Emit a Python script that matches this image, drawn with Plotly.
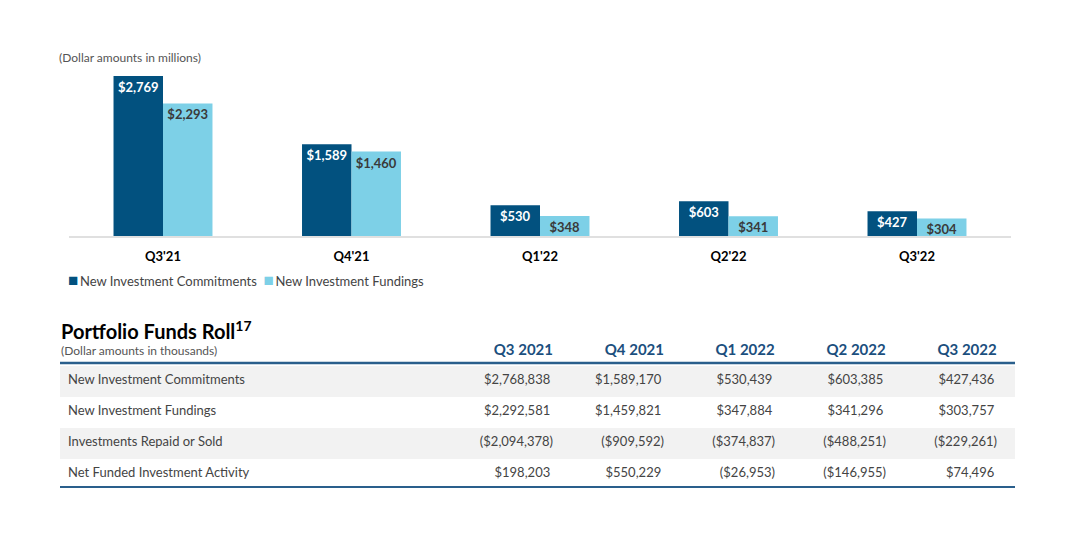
import plotly.graph_objects as go

# ---- data ----
quarters = ["Q3'21", "Q4'21", "Q1'22", "Q2'22", "Q3'22"]
commitments_m = [2769, 1589, 530, 603, 427]
fundings_m = [2293, 1460, 348, 341, 304]

table_cols = ["Q3 2021", "Q4 2021", "Q1 2022", "Q2 2022", "Q3 2022"]
row_labels = ["New Investment Commitments", "New Investment Fundings",
              "Investments Repaid or Sold", "Net Funded Investment Activity"]
commitments_k = [2768838, 1589170, 530439, 603385, 427436]
fundings_k = [2292581, 1459821, 347884, 341296, 303757]
repaid_k = [-2094378, -909592, -374837, -488251, -229261]
net_k = [198203, 550229, -26953, -146955, 74496]

DARK = "#02517f"
LIGHT = "#7dd0e7"
HEAD_BLUE = "#1b4f7e"
LINE_BLUE = "#2a5f8c"
FONT = "Lato, 'Source Sans Pro', 'Open Sans', sans-serif"

# page has an 8px body margin; figure sized to the remaining viewport
OFF = 8
W, H = 1085 - OFF, 555 - OFF


def X(px):
    return (px - OFF) / W


def Y(py):
    return 1 - (py - OFF) / H


def fmt(v):
    if v < 0:
        return f"(${-v:,})"
    return f"${v:,}\u2008"


fig = go.Figure()
fig.add_trace(go.Bar(
    x=quarters, y=commitments_m, name="New Investment Commitments",
    marker=dict(color=DARK, line=dict(width=0)),
    texttemplate="$%{y:,.0f}", textposition="inside", insidetextanchor="end",
    textangle=0, textfont=dict(family=FONT, size=13, color="white", weight="bold"),
    showlegend=False, cliponaxis=False,
))
fig.add_trace(go.Bar(
    x=quarters, y=fundings_m, name="New Investment Fundings",
    marker=dict(color=LIGHT, line=dict(width=0)),
    texttemplate="$%{y:,.0f}", textposition="inside", insidetextanchor="end",
    textangle=0, textfont=dict(family=FONT, size=13, color="#3a3a3a", weight="bold"),
    showlegend=False, cliponaxis=False,
))

# table
row_fill = ["#f2f2f2", "white", "#f2f2f2", "white"]
num_cols = [[fmt(v) for v in col] for col in zip(commitments_k, fundings_k, repaid_k, net_k)]
cells_values = [row_labels] + num_cols + [[" "] * 4]
fig.add_trace(go.Table(
    domain=dict(x=[X(60), X(1015)], y=[Y(530), Y(332)]),
    columnwidth=[390, 111, 111, 111, 111, 111, 10],
    header=dict(
        values=[" "] + [f"<b>{c}</b>" for c in table_cols] + [" "],
        align="right", height=30,
        font=dict(family=FONT, size=15, color=HEAD_BLUE),
        fill=dict(color="white"), line=dict(width=0),
    ),
    cells=dict(
        values=cells_values,
        align=["left"] + ["right"] * 6, height=31,
        font=dict(family=FONT, size=13, color="#444444"),
        fill=dict(color=[row_fill] * 7), line=dict(width=0),
    ),
))

fig.update_layout(
    width=W, height=H, margin=dict(l=0, r=0, t=0, b=0),
    paper_bgcolor="white", plot_bgcolor="white",
    barmode="group", bargap=0.475, bargroupgap=0,
    uniformtext=dict(minsize=13, mode="show"),
    font=dict(family=FONT, color="#333333"),
    xaxis=dict(domain=[X(68.75), X(1011.25)], type="category",
               showline=True, linecolor="#e0e0e0", linewidth=2,
               ticks="", showgrid=False, ticklabelstandoff=7,
               tickfont=dict(family=FONT, size=13, color="black", weight="bold")),
    yaxis=dict(domain=[Y(236), Y(62.6)], range=[0, 3000], visible=False),
    showlegend=False,
)

ann = [
    dict(text="(Dollar amounts in millions)", x=X(57), y=Y(57),
         font=dict(size=12, color="#555555")),
    dict(text=f"<span style='color:{DARK};font-size:17px'>■</span>\u2009New Investment Commitments\u00a0\u00a0"
              f"<span style='color:{LIGHT};font-size:17px'>■</span>\u2009New Investment Fundings",
         x=X(66), y=Y(279), font=dict(size=13, color="#444444")),
    dict(text="<b>Portfolio Funds Roll<sup>17</sup></b>", x=X(59), y=Y(330),
         font=dict(size=20, color="black")),
    dict(text="(Dollar amounts in thousands)", x=X(59), y=Y(350),
         font=dict(size=12, color="#555555")),
]
for a in ann:
    fig.add_annotation(xref="paper", yref="paper", xanchor="left", yanchor="middle",
                       showarrow=False, font_family=FONT, **a)

for ypx, lw in [(363, 2.5), (487, 2)]:
    fig.add_shape(type="line", xref="paper", yref="paper",
                  x0=X(60), x1=X(1015), y0=Y(ypx), y1=Y(ypx),
                  line=dict(color=LINE_BLUE, width=lw))

fig.write_html("out.html")
